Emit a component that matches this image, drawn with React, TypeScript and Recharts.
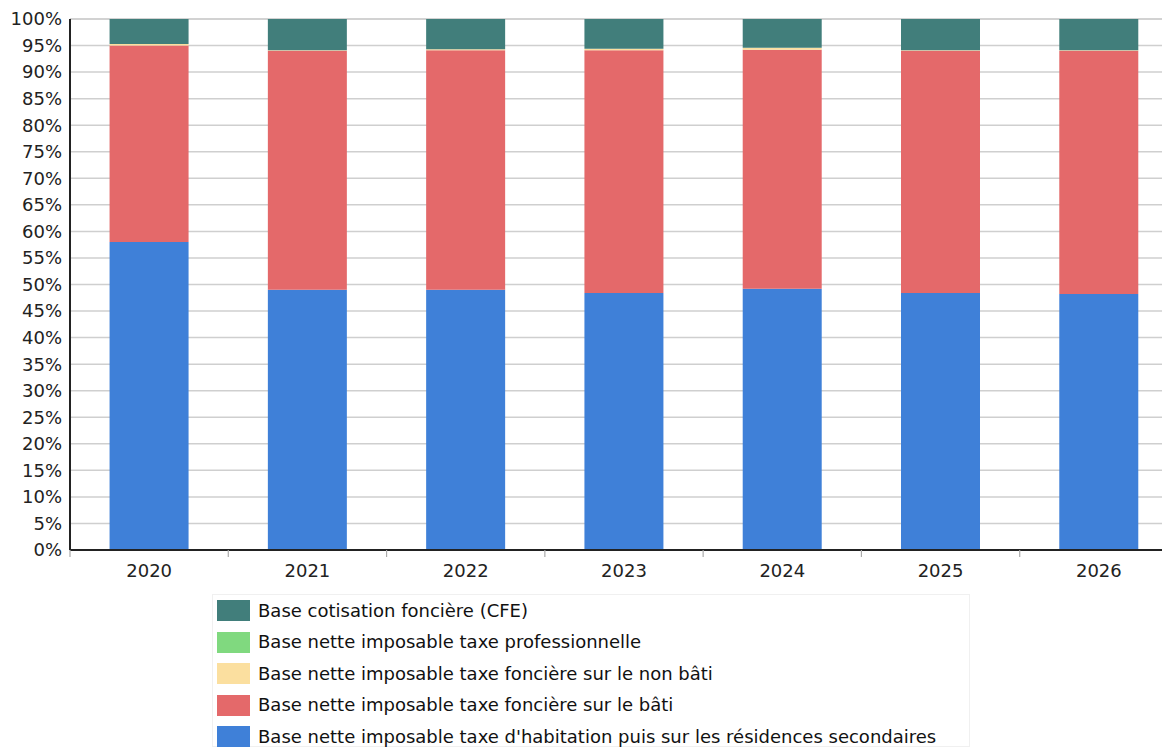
import React from "react";
import { BarChart, Bar, XAxis, YAxis, CartesianGrid } from "recharts";

const YEARS = ["2020", "2021", "2022", "2023", "2024", "2025", "2026"];
// shares in % of total, bottom to top
const TH = [58.0, 49.0, 49.0, 48.4, 49.2, 48.4, 48.2];
const BATI = [37.0, 45.0, 45.1, 45.7, 45.0, 45.6, 45.8];
const NON_BATI = [0.3, 0.1, 0.2, 0.3, 0.4, 0.1, 0.1];
const TP = [0, 0, 0, 0, 0, 0, 0];
const CFE = YEARS.map((_, i) => +(100 - TH[i] - BATI[i] - NON_BATI[i] - TP[i]).toFixed(2));

const Y_TICKS = [0, 5, 10, 15, 20, 25, 30, 35, 40, 45, 50, 55, 60, 65, 70, 75, 80, 85, 90, 95, 100];

const SERIES = [
  { key: "cfe", name: "Base cotisation foncière (CFE)", color: "#417e7b" },
  { key: "tp", name: "Base nette imposable taxe professionnelle", color: "#80d97f" },
  { key: "nonbati", name: "Base nette imposable taxe foncière sur le non bâti", color: "#fbdf9f" },
  { key: "bati", name: "Base nette imposable taxe foncière sur le bâti", color: "#e4696a" },
  { key: "th", name: "Base nette imposable taxe d'habitation puis sur les résidences secondaires", color: "#3f80d8" },
];

const data = YEARS.map((y, i) => ({
  year: y,
  th: TH[i],
  bati: BATI[i],
  nonbati: NON_BATI[i],
  tp: TP[i],
  cfe: CFE[i],
}));

const FONT = "'DejaVu Sans', sans-serif";

// year label plus small tick marks on the band boundaries
const YearTick = (props: any) => {
  const { x, y, payload, index, visibleTicksCount } = props;
  const half = payload && payload.offset ? payload.offset : 79;
  const top = y - 14;
  const last = index === (visibleTicksCount || YEARS.length) - 1;
  return (
    <g>
      <line x1={x - half} x2={x - half} y1={top} y2={top + 7} stroke="#aaa" strokeWidth={1.2} />
      {last && <line x1={x + half} x2={x + half} y1={top} y2={top + 7} stroke="#aaa" strokeWidth={1.2} />}
      <text x={x} y={y} dy="0.71em" textAnchor="middle" fill="#222" fontSize={18} fontFamily={FONT}>
        {payload.value}
      </text>
    </g>
  );
};

export default function App() {
  const stackOrder = [...SERIES].reverse();
  return (
    <div style={{ position: "relative", width: 1162, height: 747, background: "#fff", fontFamily: FONT, overflow: "hidden" }}>
      <style>{`body{margin:0}`}</style>
      <BarChart
        width={1178}
        height={592}
        data={data}
        margin={{ top: 19, right: 0, left: 0, bottom: 12 }}
        barCategoryGap="25%"
      >
        <CartesianGrid horizontal vertical={false} stroke="#cfcfcf" strokeWidth={1.5} />
        <XAxis
          dataKey="year"
          axisLine={{ stroke: "#222", strokeWidth: 2 }}
          tickLine={false}
          tickMargin={8}
          height={30}
          interval={0}
          tick={<YearTick />}
        />
        <YAxis
          domain={[0, 100]}
          ticks={Y_TICKS}
          interval={0}
          width={70}
          axisLine={{ stroke: "#222", strokeWidth: 2 }}
          tickLine={false}
          tickFormatter={(v: number) => `${v}%`}
          tick={{ fill: "#222", fontSize: 18, fontFamily: FONT }}
        />
        {stackOrder.map((s) => (
          <Bar
            key={s.key}
            dataKey={s.key}
            name={s.name}
            stackId="a"
            fill={s.color}
            isAnimationActive={false}
          />
        ))}
      </BarChart>
      <div
        style={{
          position: "absolute",
          left: 212,
          top: 594,
          width: 758,
          height: 153,
          border: "1px solid #f0f0f0",
          boxSizing: "border-box",
          padding: "0 0 0 4px",
        }}
      >
        {SERIES.map((s) => (
          <div key={s.key} style={{ display: "flex", alignItems: "center", height: 31.5 }}>
            <div style={{ width: 33, height: 21, background: s.color, marginRight: 8 }} />
            <span style={{ fontSize: 18, lineHeight: "22px", color: "#111", fontFamily: FONT, whiteSpace: "nowrap" }}>{s.name}</span>
          </div>
        ))}
      </div>
    </div>
  );
}
